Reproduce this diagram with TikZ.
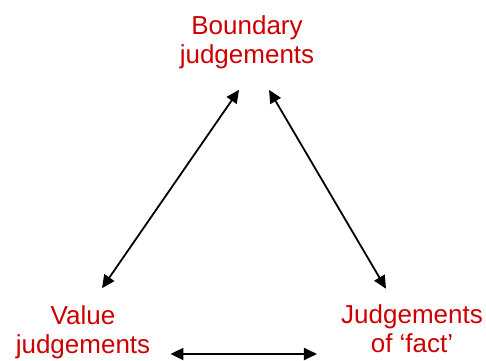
\documentclass[tikz,border=0pt]{standalone}
\usepackage{fontspec}
\setmainfont{Liberation Sans}
\usetikzlibrary{arrows.meta}
\definecolor{textred}{RGB}{204,0,0}

\begin{document}
\begin{tikzpicture}[
label/.style={text=textred, align=center, inner sep=0pt, font=\fontsize{26}{29}\selectfont},
link/.style={{Triangle[length=13pt,width=12pt]}-{Triangle[length=13pt,width=12pt]}, line width=1.8pt}
]
\useasboundingbox (0,0) rectangle (486pt,360pt);
%Nodes
\node[label]      (boundary)   at (247pt,318pt)                                             {Boundary\\judgements};
\node[label]      (value)      [below of =boundary, node distance=290pt, xshift=-164pt]      {Value\\judgements};
\node[label]      (fact)       [below of =boundary, node distance=287pt, xshift=165pt]       {Judgements\\of `fact'};
%Lines
\draw[link] ([shift={(-8pt,-21pt)}]boundary.south) -- ([shift={(19pt,17pt)}]value.north);
\draw[link] ([shift={(22pt,-21pt)}]boundary.south) -- ([shift={(-26pt,16pt)}]fact.north);
\draw[link] ([shift={(20pt,-22pt)}]value.east) -- ([shift={(-24pt,-25pt)}]fact.west);
\end{tikzpicture}
\end{document}
